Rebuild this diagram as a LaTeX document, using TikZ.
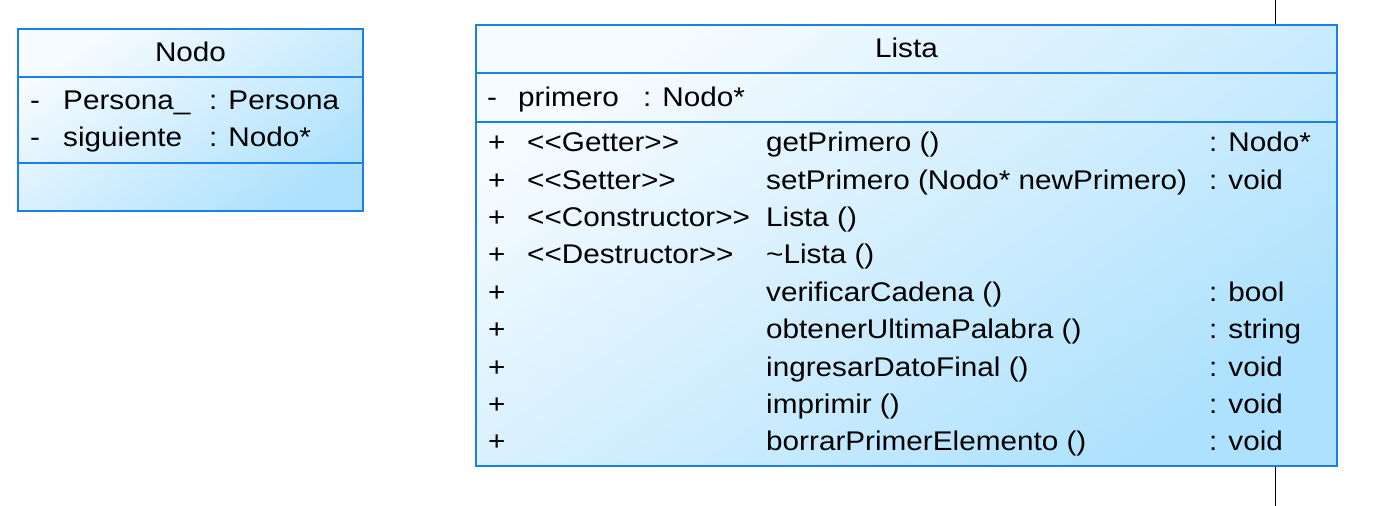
\documentclass[tikz,border=0pt]{standalone}
\usepackage{fontspec}
\setmainfont{Liberation Sans}[FakeStretch=1.1]
\definecolor{umlline}{HTML}{1A7FE8}
\definecolor{umltop}{HTML}{F6FBFF}
\definecolor{umlbot}{HTML}{ADE1FD}
\newcommand{\stereo}[1]{<\kern0pt<#1>\kern0pt>}

\begin{document}
\begin{tikzpicture}[x=1pt,y=-1pt]
	\tikzset{classbox/.style={draw=umlline, line width=1.2pt, top color=umltop, bottom color=umlbot, shading angle=35, inner sep=0pt, outer sep=0pt, anchor=north west},
		sep/.style={draw=umlline, line width=1.2pt},
		txt/.style={anchor=base west, inner sep=0pt, font=\fontsize{27}{32}\selectfont},
		ttl/.style={anchor=base, inner sep=0pt, font=\fontsize{27}{32}\selectfont}}
	
	\useasboundingbox (0,0) rectangle (1377,506);
	
	% line passing behind Lista
	\coordinate (linetop) at (1275,0);
	\coordinate (linebot) at (1275,506);
	\draw[black, line width=1pt] (linetop) -- (linebot);
	
	% class Nodo
	\node[classbox, minimum width=345, minimum height=182] (nodo) at (18,29) {};
	\draw[sep] (18,77) -- (363,77);
	\draw[sep] (18,163) -- (363,163);
	
	\node[ttl] (nodo-title) at (190.5,61.7) {Nodo};
	
	\node[txt] (nodo-v1) at (30,109.5) {-};
	\node[txt] (nodo-a1) at (63,109.5) {Persona\_};
	\node[txt] (nodo-t1) at (209,109.5) {: Persona};
	\node[txt] (nodo-v2) at (30,146.7) {-};
	\node[txt] (nodo-a2) at (63,146.7) {siguiente};
	\node[txt] (nodo-t2) at (209,146.7) {: Nodo*};
	
	% class Lista
	\node[classbox, minimum width=861, minimum height=441] (lista) at (476,25) {};
	\draw[sep] (476,73) -- (1337,73);
	\draw[sep] (476,122) -- (1337,122);
	
	\node[ttl] (lista-title) at (906.5,57.5) {Lista};
	
	\node[txt] (lista-v1) at (487,106.7) {-};
	\node[txt] (lista-a1) at (518,106.7) {primero};
	\node[txt] (lista-t1) at (643,106.7) {: Nodo*};
	
	\node[txt] (m1-vis) at (488,151.7) {+};
	\node[txt] (m1-st) at (527,151.7) {\stereo{Getter}};
	\node[txt] (m1-name) at (766,151.7) {getPrimero ()};
	\node[txt] (m1-ret) at (1209,151.7) {: Nodo*};
	
	\node[txt] (m2-vis) at (488,189.1) {+};
	\node[txt] (m2-st) at (527,189.1) {\stereo{Setter}};
	\node[txt] (m2-name) at (766,189.1) {setPrimero (Nodo* newPrimero)};
	\node[txt] (m2-ret) at (1209,189.1) {: void};
	
	\node[txt] (m3-vis) at (488,226.5) {+};
	\node[txt] (m3-st) at (527,226.5) {\stereo{Constructor}};
	\node[txt] (m3-name) at (766,226.5) {Lista ()};
	
	\node[txt] (m4-vis) at (488,263.9) {+};
	\node[txt] (m4-st) at (527,263.9) {\stereo{Destructor}};
	\node[txt] (m4-name) at (766,263.9) {\textasciitilde Lista ()};
	
	\node[txt] (m5-vis) at (488,301.3) {+};
	\node[txt] (m5-name) at (766,301.3) {verificarCadena ()};
	\node[txt] (m5-ret) at (1209,301.3) {: bool};
	
	\node[txt] (m6-vis) at (488,338.7) {+};
	\node[txt] (m6-name) at (766,338.7) {obtenerUltimaPalabra ()};
	\node[txt] (m6-ret) at (1209,338.7) {: string};
	
	\node[txt] (m7-vis) at (488,376.1) {+};
	\node[txt] (m7-name) at (766,376.1) {ingresarDatoFinal ()};
	\node[txt] (m7-ret) at (1209,376.1) {: void};
	
	\node[txt] (m8-vis) at (488,413.5) {+};
	\node[txt] (m8-name) at (766,413.5) {imprimir ()};
	\node[txt] (m8-ret) at (1209,413.5) {: void};
	
	\node[txt] (m9-vis) at (488,450.9) {+};
	\node[txt] (m9-name) at (766,450.9) {borrarPrimerElemento ()};
	\node[txt] (m9-ret) at (1209,450.9) {: void};
	
\end{tikzpicture}
\end{document}
